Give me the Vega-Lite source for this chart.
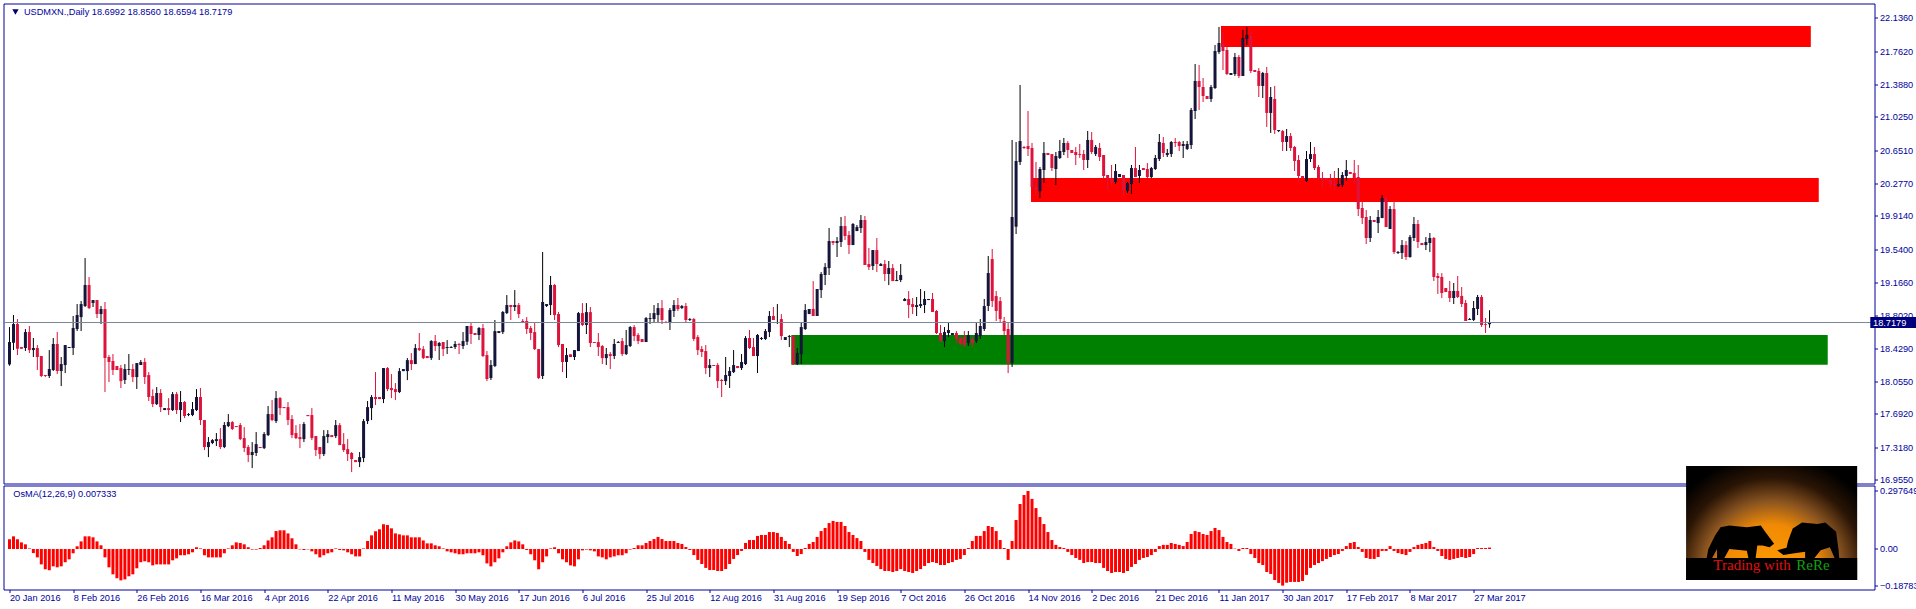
{
"$schema":"https://vega.github.io/schema/vega-lite/v6.json",
"padding":{"left":2.5,"top":2.5,"right":0,"bottom":0},
"background":"#ffffff",
"spacing":2,
"bounds":"flush",
"config":{"view":{"stroke":"#00009c","strokeWidth":1},"axis":{"labelFont":"Liberation Sans","labelFontSize":9.2,"labelColor":"#00009c","tickColor":"#00009c","tickSize":3,"domain":false,"grid":false,"title":null,"labelPadding":2,"labelBound":false,"labelFlush":false}},
"datasets":{
"candles":[
{"b":0,"o":18.248,"h":18.667,"l":18.233,"c":18.499},
{"b":1,"o":18.491,"h":18.802,"l":18.409,"c":18.701},
{"b":2,"o":18.701,"h":18.757,"l":18.353,"c":18.424},
{"b":3,"o":18.443,"h":18.443,"l":18.424,"c":18.424},
{"b":4,"o":18.432,"h":18.645,"l":18.398,"c":18.611},
{"b":5,"o":18.611,"h":18.679,"l":18.376,"c":18.409},
{"b":6,"o":18.409,"h":18.544,"l":18.331,"c":18.432},
{"b":7,"o":18.432,"h":18.465,"l":18.185,"c":18.331},
{"b":8,"o":18.342,"h":18.342,"l":18.106,"c":18.118},
{"b":9,"o":18.129,"h":18.129,"l":18.106,"c":18.118},
{"b":10,"o":18.118,"h":18.409,"l":18.095,"c":18.196},
{"b":11,"o":18.185,"h":18.544,"l":18.174,"c":18.477},
{"b":12,"o":18.477,"h":18.611,"l":18.140,"c":18.174},
{"b":13,"o":18.174,"h":18.331,"l":18.005,"c":18.252},
{"b":14,"o":18.241,"h":18.465,"l":18.151,"c":18.465},
{"b":15,"o":18.432,"h":18.443,"l":18.432,"c":18.443},
{"b":16,"o":18.432,"h":18.791,"l":18.353,"c":18.656},
{"b":17,"o":18.645,"h":18.925,"l":18.622,"c":18.802},
{"b":18,"o":18.779,"h":18.959,"l":18.622,"c":18.925},
{"b":19,"o":18.903,"h":19.441,"l":18.892,"c":19.139},
{"b":20,"o":19.139,"h":19.228,"l":18.869,"c":18.880},
{"b":21,"o":18.937,"h":18.970,"l":18.892,"c":18.970},
{"b":22,"o":18.970,"h":18.970,"l":18.768,"c":18.813},
{"b":23,"o":18.813,"h":18.903,"l":18.701,"c":18.869},
{"b":24,"o":18.869,"h":18.948,"l":17.938,"c":18.320},
{"b":25,"o":18.331,"h":18.353,"l":18.050,"c":18.275},
{"b":26,"o":18.286,"h":18.364,"l":18.129,"c":18.185},
{"b":27,"o":18.230,"h":18.230,"l":18.185,"c":18.185},
{"b":28,"o":18.207,"h":18.241,"l":17.983,"c":18.061},
{"b":29,"o":18.073,"h":18.252,"l":18.028,"c":18.196},
{"b":30,"o":18.185,"h":18.364,"l":18.129,"c":18.196},
{"b":31,"o":18.196,"h":18.252,"l":18.050,"c":18.106},
{"b":32,"o":18.106,"h":18.263,"l":17.972,"c":18.263},
{"b":33,"o":18.241,"h":18.297,"l":18.241,"c":18.275},
{"b":34,"o":18.275,"h":18.319,"l":18.028,"c":18.106},
{"b":35,"o":18.128,"h":18.162,"l":17.837,"c":17.882},
{"b":36,"o":17.893,"h":17.968,"l":17.769,"c":17.803},
{"b":37,"o":17.803,"h":17.994,"l":17.792,"c":17.927},
{"b":38,"o":17.927,"h":17.971,"l":17.713,"c":17.769},
{"b":39,"o":17.736,"h":17.758,"l":17.736,"c":17.758},
{"b":40,"o":17.758,"h":17.870,"l":17.680,"c":17.736},
{"b":41,"o":17.736,"h":17.938,"l":17.725,"c":17.915},
{"b":42,"o":17.915,"h":17.938,"l":17.691,"c":17.736},
{"b":43,"o":17.736,"h":17.949,"l":17.601,"c":17.826},
{"b":44,"o":17.826,"h":17.837,"l":17.646,"c":17.669},
{"b":45,"o":17.680,"h":17.702,"l":17.668,"c":17.691},
{"b":46,"o":17.680,"h":17.826,"l":17.668,"c":17.747},
{"b":47,"o":17.736,"h":17.971,"l":17.725,"c":17.882},
{"b":48,"o":17.882,"h":17.983,"l":17.568,"c":17.624},
{"b":49,"o":17.624,"h":17.624,"l":17.287,"c":17.321},
{"b":50,"o":17.321,"h":17.433,"l":17.208,"c":17.377},
{"b":51,"o":17.366,"h":17.410,"l":17.354,"c":17.399},
{"b":52,"o":17.388,"h":17.478,"l":17.332,"c":17.410},
{"b":53,"o":17.410,"h":17.534,"l":17.298,"c":17.321},
{"b":54,"o":17.321,"h":17.601,"l":17.309,"c":17.568},
{"b":55,"o":17.556,"h":17.691,"l":17.545,"c":17.601},
{"b":56,"o":17.601,"h":17.612,"l":17.511,"c":17.523},
{"b":57,"o":17.556,"h":17.556,"l":17.545,"c":17.545},
{"b":58,"o":17.568,"h":17.590,"l":17.399,"c":17.410},
{"b":59,"o":17.422,"h":17.545,"l":17.265,"c":17.310},
{"b":60,"o":17.321,"h":17.343,"l":17.152,"c":17.231},
{"b":61,"o":17.231,"h":17.377,"l":17.085,"c":17.265},
{"b":62,"o":17.254,"h":17.489,"l":17.220,"c":17.354},
{"b":63,"o":17.321,"h":17.321,"l":17.309,"c":17.309},
{"b":64,"o":17.309,"h":17.489,"l":17.298,"c":17.467},
{"b":65,"o":17.455,"h":17.781,"l":17.444,"c":17.691},
{"b":66,"o":17.691,"h":17.848,"l":17.612,"c":17.624},
{"b":67,"o":17.612,"h":17.949,"l":17.590,"c":17.870},
{"b":68,"o":17.870,"h":17.882,"l":17.680,"c":17.758},
{"b":69,"o":17.769,"h":17.769,"l":17.758,"c":17.758},
{"b":70,"o":17.769,"h":17.826,"l":17.567,"c":17.624},
{"b":71,"o":17.635,"h":17.680,"l":17.421,"c":17.455},
{"b":72,"o":17.478,"h":17.567,"l":17.410,"c":17.421},
{"b":73,"o":17.433,"h":17.579,"l":17.309,"c":17.410},
{"b":74,"o":17.410,"h":17.601,"l":17.377,"c":17.579},
{"b":75,"o":17.680,"h":17.680,"l":17.668,"c":17.668},
{"b":76,"o":17.680,"h":17.758,"l":17.399,"c":17.422},
{"b":77,"o":17.444,"h":17.444,"l":17.220,"c":17.287},
{"b":78,"o":17.321,"h":17.321,"l":17.186,"c":17.242},
{"b":79,"o":17.242,"h":17.511,"l":17.220,"c":17.444},
{"b":80,"o":17.433,"h":17.511,"l":17.366,"c":17.466},
{"b":81,"o":17.455,"h":17.455,"l":17.433,"c":17.433},
{"b":82,"o":17.444,"h":17.624,"l":17.422,"c":17.567},
{"b":83,"o":17.567,"h":17.590,"l":17.343,"c":17.343},
{"b":84,"o":17.354,"h":17.478,"l":17.265,"c":17.287},
{"b":85,"o":17.298,"h":17.410,"l":17.164,"c":17.242},
{"b":86,"o":17.254,"h":17.265,"l":17.040,"c":17.186},
{"b":87,"o":17.175,"h":17.175,"l":17.152,"c":17.152},
{"b":88,"o":17.152,"h":17.265,"l":17.096,"c":17.208},
{"b":89,"o":17.197,"h":17.635,"l":17.152,"c":17.612},
{"b":90,"o":17.612,"h":17.837,"l":17.579,"c":17.769},
{"b":91,"o":17.758,"h":17.904,"l":17.624,"c":17.882},
{"b":92,"o":17.882,"h":18.162,"l":17.792,"c":17.859},
{"b":93,"o":17.882,"h":17.882,"l":17.859,"c":17.859},
{"b":94,"o":17.859,"h":18.207,"l":17.814,"c":18.207},
{"b":95,"o":18.207,"h":18.218,"l":17.949,"c":17.971},
{"b":96,"o":17.983,"h":18.140,"l":17.870,"c":17.960},
{"b":97,"o":17.971,"h":18.039,"l":17.848,"c":17.938},
{"b":98,"o":17.938,"h":18.207,"l":17.927,"c":18.173},
{"b":99,"o":18.173,"h":18.196,"l":18.173,"c":18.196},
{"b":100,"o":18.173,"h":18.319,"l":18.072,"c":18.296},
{"b":101,"o":18.296,"h":18.375,"l":18.185,"c":18.252},
{"b":102,"o":18.252,"h":18.476,"l":18.252,"c":18.431},
{"b":103,"o":18.431,"h":18.600,"l":18.398,"c":18.409},
{"b":104,"o":18.420,"h":18.454,"l":18.308,"c":18.319},
{"b":105,"o":18.342,"h":18.342,"l":18.319,"c":18.319},
{"b":106,"o":18.319,"h":18.521,"l":18.297,"c":18.510},
{"b":107,"o":18.510,"h":18.578,"l":18.398,"c":18.454},
{"b":108,"o":18.454,"h":18.499,"l":18.297,"c":18.488},
{"b":109,"o":18.499,"h":18.499,"l":18.342,"c":18.420},
{"b":110,"o":18.432,"h":18.521,"l":18.364,"c":18.443},
{"b":111,"o":18.432,"h":18.454,"l":18.432,"c":18.443},
{"b":112,"o":18.443,"h":18.510,"l":18.420,"c":18.477},
{"b":113,"o":18.477,"h":18.488,"l":18.364,"c":18.465},
{"b":114,"o":18.454,"h":18.611,"l":18.420,"c":18.510},
{"b":115,"o":18.503,"h":18.679,"l":18.465,"c":18.679},
{"b":116,"o":18.679,"h":18.723,"l":18.477,"c":18.589},
{"b":117,"o":18.600,"h":18.600,"l":18.578,"c":18.578},
{"b":118,"o":18.578,"h":18.667,"l":18.521,"c":18.656},
{"b":119,"o":18.656,"h":18.701,"l":18.331,"c":18.342},
{"b":120,"o":18.353,"h":18.398,"l":18.061,"c":18.084},
{"b":121,"o":18.095,"h":18.297,"l":18.073,"c":18.241},
{"b":122,"o":18.230,"h":18.746,"l":18.218,"c":18.622},
{"b":123,"o":18.600,"h":18.622,"l":18.600,"c":18.622},
{"b":124,"o":18.611,"h":18.847,"l":18.589,"c":18.836},
{"b":125,"o":18.824,"h":19.026,"l":18.813,"c":18.914},
{"b":126,"o":18.914,"h":18.914,"l":18.746,"c":18.892},
{"b":127,"o":18.892,"h":19.082,"l":18.847,"c":18.914},
{"b":128,"o":18.914,"h":18.937,"l":18.768,"c":18.813},
{"b":129,"o":18.735,"h":18.757,"l":18.712,"c":18.723},
{"b":130,"o":18.735,"h":18.779,"l":18.589,"c":18.645},
{"b":131,"o":18.656,"h":18.679,"l":18.521,"c":18.600},
{"b":132,"o":18.611,"h":18.712,"l":18.409,"c":18.420},
{"b":133,"o":18.420,"h":18.420,"l":18.084,"c":18.095},
{"b":134,"o":18.118,"h":19.509,"l":18.084,"c":18.948},
{"b":135,"o":18.903,"h":18.925,"l":18.892,"c":18.925},
{"b":136,"o":18.914,"h":19.240,"l":18.802,"c":19.139},
{"b":137,"o":19.139,"h":19.150,"l":18.746,"c":18.802},
{"b":138,"o":18.813,"h":18.836,"l":18.443,"c":18.465},
{"b":139,"o":18.477,"h":18.477,"l":18.162,"c":18.275},
{"b":140,"o":18.275,"h":18.432,"l":18.095,"c":18.353},
{"b":141,"o":18.361,"h":18.361,"l":18.331,"c":18.331},
{"b":142,"o":18.331,"h":18.409,"l":18.297,"c":18.409},
{"b":143,"o":18.398,"h":18.836,"l":18.398,"c":18.824},
{"b":144,"o":18.824,"h":18.936,"l":18.678,"c":18.690},
{"b":145,"o":18.690,"h":18.936,"l":18.589,"c":18.835},
{"b":146,"o":18.835,"h":18.892,"l":18.443,"c":18.488},
{"b":147,"o":18.499,"h":18.499,"l":18.488,"c":18.488},
{"b":148,"o":18.499,"h":18.600,"l":18.342,"c":18.443},
{"b":149,"o":18.454,"h":18.465,"l":18.252,"c":18.319},
{"b":150,"o":18.319,"h":18.432,"l":18.241,"c":18.364},
{"b":151,"o":18.364,"h":18.387,"l":18.196,"c":18.342},
{"b":152,"o":18.342,"h":18.533,"l":18.308,"c":18.477},
{"b":153,"o":18.488,"h":18.510,"l":18.488,"c":18.499},
{"b":154,"o":18.510,"h":18.544,"l":18.342,"c":18.364},
{"b":155,"o":18.364,"h":18.634,"l":18.353,"c":18.465},
{"b":156,"o":18.454,"h":18.678,"l":18.443,"c":18.667},
{"b":157,"o":18.667,"h":18.690,"l":18.510,"c":18.566},
{"b":158,"o":18.578,"h":18.600,"l":18.476,"c":18.510},
{"b":159,"o":18.533,"h":18.533,"l":18.499,"c":18.499},
{"b":160,"o":18.499,"h":18.779,"l":18.499,"c":18.768},
{"b":161,"o":18.757,"h":18.824,"l":18.701,"c":18.768},
{"b":162,"o":18.757,"h":18.914,"l":18.712,"c":18.824},
{"b":163,"o":18.802,"h":18.937,"l":18.712,"c":18.880},
{"b":164,"o":18.880,"h":18.970,"l":18.701,"c":18.746},
{"b":165,"o":18.724,"h":18.735,"l":18.712,"c":18.712},
{"b":166,"o":18.712,"h":18.881,"l":18.634,"c":18.858},
{"b":167,"o":18.847,"h":18.970,"l":18.780,"c":18.914},
{"b":168,"o":18.914,"h":18.993,"l":18.847,"c":18.869},
{"b":169,"o":18.881,"h":18.914,"l":18.869,"c":18.903},
{"b":170,"o":18.903,"h":18.937,"l":18.712,"c":18.746},
{"b":171,"o":18.746,"h":18.768,"l":18.735,"c":18.757},
{"b":172,"o":18.757,"h":18.768,"l":18.510,"c":18.533},
{"b":173,"o":18.555,"h":18.577,"l":18.353,"c":18.409},
{"b":174,"o":18.420,"h":18.454,"l":18.331,"c":18.387},
{"b":175,"o":18.398,"h":18.465,"l":18.140,"c":18.207},
{"b":176,"o":18.207,"h":18.308,"l":18.106,"c":18.241},
{"b":177,"o":18.241,"h":18.241,"l":18.230,"c":18.230},
{"b":178,"o":18.241,"h":18.263,"l":17.983,"c":18.061},
{"b":179,"o":18.073,"h":18.084,"l":17.882,"c":18.061},
{"b":180,"o":18.061,"h":18.331,"l":18.017,"c":18.129},
{"b":181,"o":18.118,"h":18.219,"l":17.983,"c":18.174},
{"b":182,"o":18.162,"h":18.409,"l":18.151,"c":18.241},
{"b":183,"o":18.230,"h":18.230,"l":18.207,"c":18.207},
{"b":184,"o":18.207,"h":18.364,"l":18.185,"c":18.275},
{"b":185,"o":18.252,"h":18.566,"l":18.241,"c":18.544},
{"b":186,"o":18.544,"h":18.634,"l":18.420,"c":18.432},
{"b":187,"o":18.443,"h":18.544,"l":18.342,"c":18.342},
{"b":188,"o":18.342,"h":18.589,"l":18.151,"c":18.578},
{"b":189,"o":18.533,"h":18.555,"l":18.522,"c":18.544},
{"b":190,"o":18.533,"h":18.645,"l":18.522,"c":18.622},
{"b":191,"o":18.611,"h":18.847,"l":18.555,"c":18.791},
{"b":192,"o":18.791,"h":18.892,"l":18.746,"c":18.746},
{"b":193,"o":18.757,"h":18.925,"l":18.701,"c":18.757},
{"b":194,"o":18.757,"h":18.813,"l":18.522,"c":18.566},
{"b":195,"o":18.522,"h":18.555,"l":18.522,"c":18.555},
{"b":196,"o":18.555,"h":18.578,"l":18.443,"c":18.566},
{"b":197,"o":18.566,"h":18.578,"l":18.241,"c":18.252},
{"b":198,"o":18.252,"h":18.432,"l":18.241,"c":18.376},
{"b":199,"o":18.364,"h":18.723,"l":18.252,"c":18.667},
{"b":200,"o":18.645,"h":18.925,"l":18.634,"c":18.858},
{"b":201,"o":18.813,"h":18.870,"l":18.813,"c":18.870},
{"b":202,"o":18.870,"h":19.183,"l":18.791,"c":18.791},
{"b":203,"o":18.791,"h":19.094,"l":18.791,"c":19.094},
{"b":204,"o":19.082,"h":19.284,"l":18.993,"c":19.262},
{"b":205,"o":19.251,"h":19.385,"l":19.138,"c":19.340},
{"b":206,"o":19.329,"h":19.778,"l":19.251,"c":19.632},
{"b":207,"o":19.632,"h":19.632,"l":19.587,"c":19.610},
{"b":208,"o":19.610,"h":19.677,"l":19.453,"c":19.632},
{"b":209,"o":19.621,"h":19.902,"l":19.565,"c":19.800},
{"b":210,"o":19.800,"h":19.913,"l":19.643,"c":19.688},
{"b":211,"o":19.699,"h":19.744,"l":19.486,"c":19.587},
{"b":212,"o":19.587,"h":19.834,"l":19.587,"c":19.823},
{"b":213,"o":19.744,"h":19.812,"l":19.744,"c":19.789},
{"b":214,"o":19.778,"h":19.924,"l":19.722,"c":19.868},
{"b":215,"o":19.868,"h":19.913,"l":19.363,"c":19.363},
{"b":216,"o":19.374,"h":19.554,"l":19.307,"c":19.340},
{"b":217,"o":19.352,"h":19.531,"l":19.307,"c":19.531},
{"b":218,"o":19.531,"h":19.666,"l":19.284,"c":19.374},
{"b":219,"o":19.352,"h":19.385,"l":19.352,"c":19.374},
{"b":220,"o":19.374,"h":19.419,"l":19.183,"c":19.262},
{"b":221,"o":19.262,"h":19.408,"l":19.138,"c":19.329},
{"b":222,"o":19.329,"h":19.374,"l":19.183,"c":19.183},
{"b":223,"o":19.183,"h":19.296,"l":19.183,"c":19.195},
{"b":224,"o":19.195,"h":19.374,"l":19.172,"c":19.251},
{"b":225,"o":18.959,"h":18.993,"l":18.959,"c":18.982},
{"b":226,"o":18.982,"h":19.071,"l":18.768,"c":18.914},
{"b":227,"o":18.925,"h":18.993,"l":18.813,"c":18.892},
{"b":228,"o":18.892,"h":19.004,"l":18.791,"c":18.914},
{"b":229,"o":18.903,"h":19.094,"l":18.881,"c":18.925},
{"b":230,"o":18.914,"h":19.071,"l":18.824,"c":18.982},
{"b":231,"o":18.970,"h":18.982,"l":18.970,"c":18.982},
{"b":232,"o":18.982,"h":19.049,"l":18.836,"c":18.836},
{"b":233,"o":18.847,"h":18.858,"l":18.589,"c":18.600},
{"b":234,"o":18.600,"h":18.690,"l":18.499,"c":18.510},
{"b":235,"o":18.510,"h":18.667,"l":18.443,"c":18.611},
{"b":236,"o":18.600,"h":18.712,"l":18.555,"c":18.634},
{"b":237,"o":18.578,"h":18.600,"l":18.578,"c":18.600},
{"b":238,"o":18.600,"h":18.622,"l":18.488,"c":18.533},
{"b":239,"o":18.544,"h":18.555,"l":18.465,"c":18.477},
{"b":240,"o":18.555,"h":18.623,"l":18.443,"c":18.466},
{"b":241,"o":18.488,"h":18.623,"l":18.454,"c":18.578},
{"b":242,"o":18.533,"h":18.555,"l":18.443,"c":18.488},
{"b":243,"o":18.510,"h":18.712,"l":18.488,"c":18.600},
{"b":244,"o":18.566,"h":18.757,"l":18.533,"c":18.679},
{"b":245,"o":18.645,"h":18.982,"l":18.623,"c":18.903},
{"b":246,"o":18.903,"h":19.464,"l":18.847,"c":19.273},
{"b":247,"o":19.430,"h":19.543,"l":18.892,"c":18.959},
{"b":248,"o":19.015,"h":19.071,"l":18.735,"c":18.847},
{"b":249,"o":18.959,"h":19.004,"l":18.712,"c":18.757},
{"b":250,"o":18.735,"h":18.780,"l":18.578,"c":18.623},
{"b":251,"o":18.645,"h":18.712,"l":18.151,"c":18.264},
{"b":252,"o":18.264,"h":20.766,"l":18.219,"c":19.902},
{"b":253,"o":19.793,"h":20.743,"l":19.711,"c":20.530},
{"b":254,"o":20.519,"h":21.383,"l":20.485,"c":20.754},
{"b":255,"o":20.687,"h":20.698,"l":20.665,"c":20.676},
{"b":256,"o":20.698,"h":21.091,"l":20.586,"c":20.665},
{"b":257,"o":20.676,"h":20.732,"l":20.238,"c":20.238},
{"b":258,"o":20.238,"h":20.519,"l":20.137,"c":20.205},
{"b":259,"o":20.193,"h":20.463,"l":20.115,"c":20.440},
{"b":260,"o":20.429,"h":20.743,"l":20.283,"c":20.620},
{"b":261,"o":20.620,"h":20.620,"l":20.597,"c":20.597},
{"b":262,"o":20.608,"h":20.608,"l":20.418,"c":20.451},
{"b":263,"o":20.440,"h":20.631,"l":20.261,"c":20.586},
{"b":264,"o":20.564,"h":20.766,"l":20.552,"c":20.642},
{"b":265,"o":20.631,"h":20.788,"l":20.597,"c":20.732},
{"b":266,"o":20.732,"h":20.754,"l":20.564,"c":20.653},
{"b":267,"o":20.653,"h":20.653,"l":20.620,"c":20.620},
{"b":268,"o":20.631,"h":20.687,"l":20.485,"c":20.597},
{"b":269,"o":20.608,"h":20.721,"l":20.564,"c":20.597},
{"b":270,"o":20.608,"h":20.653,"l":20.429,"c":20.541},
{"b":271,"o":20.541,"h":20.867,"l":20.451,"c":20.766},
{"b":272,"o":20.766,"h":20.855,"l":20.608,"c":20.631},
{"b":273,"o":20.608,"h":20.709,"l":20.586,"c":20.687},
{"b":274,"o":20.676,"h":20.732,"l":20.530,"c":20.575},
{"b":275,"o":20.597,"h":20.597,"l":20.328,"c":20.362},
{"b":276,"o":20.373,"h":20.373,"l":20.205,"c":20.328},
{"b":277,"o":20.328,"h":20.485,"l":20.261,"c":20.294},
{"b":278,"o":20.294,"h":20.496,"l":20.272,"c":20.418},
{"b":279,"o":20.350,"h":20.384,"l":20.350,"c":20.384},
{"b":280,"o":20.373,"h":20.373,"l":20.137,"c":20.201},
{"b":281,"o":20.193,"h":20.294,"l":20.171,"c":20.283},
{"b":282,"o":20.272,"h":20.485,"l":20.160,"c":20.451},
{"b":283,"o":20.451,"h":20.687,"l":20.350,"c":20.350},
{"b":284,"o":20.362,"h":20.485,"l":20.283,"c":20.429},
{"b":285,"o":20.451,"h":20.451,"l":20.429,"c":20.429},
{"b":286,"o":20.440,"h":20.507,"l":20.339,"c":20.350},
{"b":287,"o":20.350,"h":20.463,"l":20.339,"c":20.451},
{"b":288,"o":20.440,"h":20.597,"l":20.429,"c":20.564},
{"b":289,"o":20.552,"h":20.833,"l":20.530,"c":20.743},
{"b":290,"o":20.732,"h":20.799,"l":20.575,"c":20.620},
{"b":291,"o":20.597,"h":20.665,"l":20.575,"c":20.620},
{"b":292,"o":20.608,"h":20.754,"l":20.575,"c":20.743},
{"b":293,"o":20.743,"h":20.788,"l":20.687,"c":20.732},
{"b":294,"o":20.743,"h":20.754,"l":20.642,"c":20.698},
{"b":295,"o":20.698,"h":20.754,"l":20.564,"c":20.721},
{"b":296,"o":20.665,"h":20.754,"l":20.653,"c":20.721},
{"b":297,"o":20.709,"h":21.125,"l":20.665,"c":21.102},
{"b":298,"o":21.091,"h":21.618,"l":21.001,"c":21.428},
{"b":299,"o":21.428,"h":21.607,"l":21.102,"c":21.360},
{"b":300,"o":21.360,"h":21.461,"l":21.192,"c":21.259},
{"b":301,"o":21.259,"h":21.259,"l":21.226,"c":21.226},
{"b":302,"o":21.226,"h":21.383,"l":21.192,"c":21.360},
{"b":303,"o":21.349,"h":21.832,"l":21.338,"c":21.764},
{"b":304,"o":21.753,"h":22.034,"l":21.731,"c":21.854},
{"b":305,"o":21.843,"h":21.970,"l":21.551,"c":21.764},
{"b":306,"o":21.776,"h":21.809,"l":21.495,"c":21.506},
{"b":307,"o":21.495,"h":21.517,"l":21.495,"c":21.517},
{"b":308,"o":21.506,"h":21.742,"l":21.484,"c":21.697},
{"b":309,"o":21.697,"h":21.719,"l":21.461,"c":21.484},
{"b":310,"o":21.484,"h":22.000,"l":21.484,"c":21.910},
{"b":311,"o":21.899,"h":22.034,"l":21.832,"c":21.944},
{"b":312,"o":21.933,"h":21.989,"l":21.517,"c":21.540},
{"b":313,"o":21.551,"h":21.551,"l":21.529,"c":21.529},
{"b":314,"o":21.540,"h":21.574,"l":21.248,"c":21.372},
{"b":315,"o":21.372,"h":21.529,"l":21.237,"c":21.517},
{"b":316,"o":21.517,"h":21.585,"l":20.912,"c":21.069},
{"b":317,"o":21.069,"h":21.360,"l":20.844,"c":21.248},
{"b":318,"o":21.226,"h":21.372,"l":20.833,"c":20.878},
{"b":319,"o":20.866,"h":20.878,"l":20.854,"c":20.878},
{"b":320,"o":20.866,"h":20.878,"l":20.642,"c":20.743},
{"b":321,"o":20.743,"h":20.889,"l":20.642,"c":20.810},
{"b":322,"o":20.810,"h":20.844,"l":20.642,"c":20.676},
{"b":323,"o":20.687,"h":20.698,"l":20.418,"c":20.530},
{"b":324,"o":20.541,"h":20.597,"l":20.283,"c":20.362},
{"b":325,"o":20.362,"h":20.362,"l":20.339,"c":20.339},
{"b":326,"o":20.306,"h":20.642,"l":20.294,"c":20.552},
{"b":327,"o":20.552,"h":20.743,"l":20.519,"c":20.608},
{"b":328,"o":20.608,"h":20.687,"l":20.429,"c":20.451},
{"b":329,"o":20.463,"h":20.485,"l":20.317,"c":20.339},
{"b":330,"o":20.339,"h":20.407,"l":20.227,"c":20.317},
{"b":331,"o":20.339,"h":20.339,"l":20.317,"c":20.317},
{"b":332,"o":20.317,"h":20.384,"l":20.227,"c":20.272},
{"b":333,"o":20.272,"h":20.418,"l":20.205,"c":20.261},
{"b":334,"o":20.249,"h":20.451,"l":20.238,"c":20.272},
{"b":335,"o":20.261,"h":20.406,"l":20.238,"c":20.373},
{"b":336,"o":20.362,"h":20.541,"l":20.306,"c":20.429},
{"b":337,"o":20.407,"h":20.407,"l":20.384,"c":20.384},
{"b":338,"o":20.395,"h":20.541,"l":20.272,"c":20.339},
{"b":339,"o":20.350,"h":20.485,"l":19.913,"c":19.991},
{"b":340,"o":20.003,"h":20.081,"l":19.823,"c":19.890},
{"b":341,"o":19.902,"h":19.980,"l":19.599,"c":19.666},
{"b":342,"o":19.666,"h":19.913,"l":19.621,"c":19.868},
{"b":343,"o":19.868,"h":19.868,"l":19.846,"c":19.846},
{"b":344,"o":19.834,"h":19.980,"l":19.722,"c":19.902},
{"b":345,"o":19.890,"h":20.148,"l":19.890,"c":20.115},
{"b":346,"o":20.115,"h":20.148,"l":19.789,"c":19.789},
{"b":347,"o":19.767,"h":20.025,"l":19.767,"c":19.991},
{"b":348,"o":19.991,"h":20.081,"l":19.487,"c":19.509},
{"b":349,"o":19.498,"h":19.520,"l":19.487,"c":19.509},
{"b":350,"o":19.498,"h":19.644,"l":19.430,"c":19.587},
{"b":351,"o":19.587,"h":19.632,"l":19.419,"c":19.453},
{"b":352,"o":19.453,"h":19.700,"l":19.445,"c":19.677},
{"b":353,"o":19.666,"h":19.902,"l":19.632,"c":19.823},
{"b":354,"o":19.823,"h":19.868,"l":19.554,"c":19.621},
{"b":355,"o":19.610,"h":19.610,"l":19.587,"c":19.587},
{"b":356,"o":19.587,"h":19.677,"l":19.531,"c":19.621},
{"b":357,"o":19.610,"h":19.722,"l":19.509,"c":19.666},
{"b":358,"o":19.666,"h":19.677,"l":19.184,"c":19.229},
{"b":359,"o":19.240,"h":19.273,"l":19.038,"c":19.217},
{"b":360,"o":19.229,"h":19.273,"l":18.993,"c":19.049},
{"b":361,"o":19.105,"h":19.105,"l":19.060,"c":19.060},
{"b":362,"o":19.072,"h":19.184,"l":18.948,"c":18.993},
{"b":363,"o":18.993,"h":19.161,"l":18.926,"c":19.072},
{"b":364,"o":19.072,"h":19.240,"l":18.993,"c":19.004},
{"b":365,"o":19.016,"h":19.116,"l":18.892,"c":18.926},
{"b":366,"o":18.937,"h":18.971,"l":18.735,"c":18.735},
{"b":367,"o":18.746,"h":18.769,"l":18.746,"c":18.757},
{"b":368,"o":18.746,"h":18.959,"l":18.735,"c":18.881},
{"b":369,"o":18.870,"h":19.027,"l":18.802,"c":19.004},
{"b":370,"o":19.004,"h":19.027,"l":18.668,"c":18.690},
{"b":371,"o":18.699,"h":18.769,"l":18.600,"c":18.690},
{"b":372,"o":18.699,"h":18.856,"l":18.659,"c":18.718}
],
"osma":[
{"b":0,"v":0.050},{"b":1,"v":0.065},{"b":2,"v":0.050},{"b":3,"v":0.034},{"b":4,"v":0.024},{"b":5,"v":0.003},{"b":6,"v":-0.021},{"b":7,"v":-0.043},{"b":8,"v":-0.079},{"b":9,"v":-0.104},{"b":10,"v":-0.109},{"b":11,"v":-0.089},{"b":12,"v":-0.094},{"b":13,"v":-0.089},{"b":14,"v":-0.068},{"b":15,"v":-0.053},{"b":16,"v":-0.022},{"b":17,"v":0.014},{"b":18,"v":0.039},{"b":19,"v":0.065},{"b":20,"v":0.065},{"b":21,"v":0.060},{"b":22,"v":0.039},{"b":23,"v":0.019},{"b":24,"v":-0.043},{"b":25,"v":-0.094},{"b":26,"v":-0.130},{"b":27,"v":-0.150},{"b":28,"v":-0.161},{"b":29,"v":-0.156},{"b":30,"v":-0.140},{"b":31,"v":-0.130},{"b":32,"v":-0.099},{"b":33,"v":-0.068},{"b":34,"v":-0.063},{"b":35,"v":-0.068},{"b":36,"v":-0.084},{"b":37,"v":-0.079},{"b":38,"v":-0.079},{"b":39,"v":-0.079},{"b":40,"v":-0.079},{"b":41,"v":-0.058},{"b":42,"v":-0.048},{"b":43,"v":-0.032},{"b":44,"v":-0.032},{"b":45,"v":-0.027},{"b":46,"v":-0.017},{"b":47,"v":0.009},{"b":48,"v":0.003},{"b":49,"v":-0.032},{"b":50,"v":-0.043},{"b":51,"v":-0.043},{"b":52,"v":-0.043},{"b":53,"v":-0.043},{"b":54,"v":-0.022},{"b":55,"v":0.003},{"b":56,"v":0.019},{"b":57,"v":0.034},{"b":58,"v":0.031},{"b":59,"v":0.024},{"b":60,"v":0.009},{"b":61,"v":-0.003},{"b":62,"v":-0.003},{"b":63,"v":0.005},{"b":64,"v":0.019},{"b":65,"v":0.044},{"b":66,"v":0.060},{"b":67,"v":0.092},{"b":68,"v":0.096},{"b":69,"v":0.096},{"b":70,"v":0.080},{"b":71,"v":0.055},{"b":72,"v":0.024},{"b":73,"v":-0.002},{"b":74,"v":-0.005},{"b":75,"v":-0.002},{"b":76,"v":-0.012},{"b":77,"v":-0.027},{"b":78,"v":-0.043},{"b":79,"v":-0.032},{"b":80,"v":-0.022},{"b":81,"v":-0.017},{"b":82,"v":0.003},{"b":83,"v":-0.005},{"b":84,"v":-0.007},{"b":85,"v":-0.017},{"b":86,"v":-0.027},{"b":87,"v":-0.038},{"b":88,"v":-0.038},{"b":89,"v":0.003},{"b":90,"v":0.041},{"b":91,"v":0.070},{"b":92,"v":0.091},{"b":93,"v":0.101},{"b":94,"v":0.127},{"b":95,"v":0.123},{"b":96,"v":0.106},{"b":97,"v":0.080},{"b":98,"v":0.075},{"b":99,"v":0.070},{"b":100,"v":0.070},{"b":101,"v":0.060},{"b":102,"v":0.060},{"b":103,"v":0.060},{"b":104,"v":0.044},{"b":105,"v":0.029},{"b":106,"v":0.029},{"b":107,"v":0.019},{"b":108,"v":0.014},{"b":109,"v":0.003},{"b":110,"v":-0.012},{"b":111,"v":-0.017},{"b":112,"v":-0.022},{"b":113,"v":-0.027},{"b":114,"v":-0.027},{"b":115,"v":-0.022},{"b":116,"v":-0.022},{"b":117,"v":-0.022},{"b":118,"v":-0.017},{"b":119,"v":-0.032},{"b":120,"v":-0.074},{"b":121,"v":-0.089},{"b":122,"v":-0.068},{"b":123,"v":-0.048},{"b":124,"v":-0.017},{"b":125,"v":0.014},{"b":126,"v":0.034},{"b":127,"v":0.044},{"b":128,"v":0.039},{"b":129,"v":0.024},{"b":130,"v":-0.005},{"b":131,"v":-0.027},{"b":132,"v":-0.058},{"b":133,"v":-0.104},{"b":134,"v":-0.068},{"b":135,"v":-0.038},{"b":136,"v":0.003},{"b":137,"v":0.009},{"b":138,"v":-0.022},{"b":139,"v":-0.053},{"b":140,"v":-0.068},{"b":141,"v":-0.084},{"b":142,"v":-0.089},{"b":143,"v":-0.053},{"b":144,"v":-0.007},{"b":145,"v":-0.003},{"b":146,"v":-0.007},{"b":147,"v":-0.012},{"b":148,"v":-0.038},{"b":149,"v":-0.043},{"b":150,"v":-0.053},{"b":151,"v":-0.043},{"b":152,"v":-0.038},{"b":153,"v":-0.032},{"b":154,"v":-0.032},{"b":155,"v":-0.022},{"b":156,"v":-0.003},{"b":157,"v":0.005},{"b":158,"v":0.019},{"b":159,"v":0.019},{"b":160,"v":0.031},{"b":161,"v":0.041},{"b":162,"v":0.051},{"b":163,"v":0.062},{"b":164,"v":0.051},{"b":165,"v":0.041},{"b":166,"v":0.041},{"b":167,"v":0.041},{"b":168,"v":0.031},{"b":169,"v":0.026},{"b":170,"v":0.010},{"b":171,"v":-0.005},{"b":172,"v":-0.031},{"b":173,"v":-0.056},{"b":174,"v":-0.077},{"b":175,"v":-0.097},{"b":176,"v":-0.108},{"b":177,"v":-0.108},{"b":178,"v":-0.113},{"b":179,"v":-0.113},{"b":180,"v":-0.103},{"b":181,"v":-0.077},{"b":182,"v":-0.051},{"b":183,"v":-0.031},{"b":184,"v":-0.010},{"b":185,"v":0.031},{"b":186,"v":0.046},{"b":187,"v":0.046},{"b":188,"v":0.067},{"b":189,"v":0.072},{"b":190,"v":0.072},{"b":191,"v":0.087},{"b":192,"v":0.087},{"b":193,"v":0.082},{"b":194,"v":0.062},{"b":195,"v":0.041},{"b":196,"v":0.026},{"b":197,"v":-0.015},{"b":198,"v":-0.036},{"b":199,"v":-0.026},{"b":200,"v":0.005},{"b":201,"v":0.026},{"b":202,"v":0.036},{"b":203,"v":0.062},{"b":204,"v":0.092},{"b":205,"v":0.108},{"b":206,"v":0.133},{"b":207,"v":0.144},{"b":208,"v":0.139},{"b":209,"v":0.139},{"b":210,"v":0.118},{"b":211,"v":0.087},{"b":212,"v":0.072},{"b":213,"v":0.056},{"b":214,"v":0.041},{"b":215,"v":-0.015},{"b":216,"v":-0.056},{"b":217,"v":-0.072},{"b":218,"v":-0.087},{"b":219,"v":-0.103},{"b":220,"v":-0.113},{"b":221,"v":-0.113},{"b":222,"v":-0.118},{"b":223,"v":-0.113},{"b":224,"v":-0.103},{"b":225,"v":-0.113},{"b":226,"v":-0.118},{"b":227,"v":-0.123},{"b":228,"v":-0.113},{"b":229,"v":-0.103},{"b":230,"v":-0.087},{"b":231,"v":-0.072},{"b":232,"v":-0.067},{"b":233,"v":-0.072},{"b":234,"v":-0.082},{"b":235,"v":-0.082},{"b":236,"v":-0.072},{"b":237,"v":-0.067},{"b":238,"v":-0.056},{"b":239,"v":-0.051},{"b":240,"v":-0.031},{"b":241,"v":0.005},{"b":242,"v":0.041},{"b":243,"v":0.067},{"b":244,"v":0.067},{"b":245,"v":0.092},{"b":246,"v":0.118},{"b":247,"v":0.113},{"b":248,"v":0.092},{"b":249,"v":0.046},{"b":250,"v":0.005},{"b":251,"v":-0.056},{"b":252,"v":0.041},{"b":253,"v":0.149},{"b":254,"v":0.231},{"b":255,"v":0.277},{"b":256,"v":0.2976},{"b":257,"v":0.257},{"b":258,"v":0.210},{"b":259,"v":0.164},{"b":260,"v":0.128},{"b":261,"v":0.087},{"b":262,"v":0.046},{"b":263,"v":0.021},{"b":264,"v":0.010},{"b":265,"v":0.005},{"b":266,"v":-0.015},{"b":267,"v":-0.031},{"b":268,"v":-0.046},{"b":269,"v":-0.056},{"b":270,"v":-0.072},{"b":271,"v":-0.067},{"b":272,"v":-0.067},{"b":273,"v":-0.072},{"b":274,"v":-0.072},{"b":275,"v":-0.097},{"b":276,"v":-0.113},{"b":277,"v":-0.123},{"b":278,"v":-0.118},{"b":279,"v":-0.118},{"b":280,"v":-0.123},{"b":281,"v":-0.113},{"b":282,"v":-0.092},{"b":283,"v":-0.077},{"b":284,"v":-0.056},{"b":285,"v":-0.046},{"b":286,"v":-0.041},{"b":287,"v":-0.031},{"b":288,"v":-0.015},{"b":289,"v":0.015},{"b":290,"v":0.021},{"b":291,"v":0.021},{"b":292,"v":0.031},{"b":293,"v":0.026},{"b":294,"v":0.021},{"b":295,"v":0.015},{"b":296,"v":0.036},{"b":297,"v":0.077},{"b":298,"v":0.092},{"b":299,"v":0.087},{"b":300,"v":0.077},{"b":301,"v":0.072},{"b":302,"v":0.092},{"b":303,"v":0.108},{"b":304,"v":0.097},{"b":305,"v":0.062},{"b":306,"v":0.036},{"b":307,"v":0.026},{"b":308,"v":0.002},{"b":309,"v":-0.010},{"b":310,"v":0.005},{"b":311,"v":0.005},{"b":312,"v":-0.026},{"b":313,"v":-0.046},{"b":314,"v":-0.072},{"b":315,"v":-0.082},{"b":316,"v":-0.118},{"b":317,"v":-0.128},{"b":318,"v":-0.159},{"b":319,"v":-0.174},{"b":320,"v":-0.1878},{"b":321,"v":-0.173},{"b":322,"v":-0.169},{"b":323,"v":-0.169},{"b":324,"v":-0.169},{"b":325,"v":-0.164},{"b":326,"v":-0.133},{"b":327,"v":-0.097},{"b":328,"v":-0.082},{"b":329,"v":-0.072},{"b":330,"v":-0.062},{"b":331,"v":-0.051},{"b":332,"v":-0.041},{"b":333,"v":-0.031},{"b":334,"v":-0.026},{"b":335,"v":-0.010},{"b":336,"v":0.015},{"b":337,"v":0.031},{"b":338,"v":0.036},{"b":339,"v":0.010},{"b":340,"v":-0.015},{"b":341,"v":-0.046},{"b":342,"v":-0.051},{"b":343,"v":-0.051},{"b":344,"v":-0.041},{"b":345,"v":-0.010},{"b":346,"v":-0.010},{"b":347,"v":0.015},{"b":348,"v":-0.010},{"b":349,"v":-0.021},{"b":350,"v":-0.026},{"b":351,"v":-0.031},{"b":352,"v":-0.015},{"b":353,"v":0.010},{"b":354,"v":0.021},{"b":355,"v":0.026},{"b":356,"v":0.031},{"b":357,"v":0.041},{"b":358,"v":0.010},{"b":359,"v":-0.010},{"b":360,"v":-0.036},{"b":361,"v":-0.051},{"b":362,"v":-0.056},{"b":363,"v":-0.051},{"b":364,"v":-0.046},{"b":365,"v":-0.041},{"b":366,"v":-0.046},{"b":367,"v":-0.041},{"b":368,"v":-0.026},{"b":369,"v":0.005},{"b":370,"v":0.005},{"b":371,"v":0.005},{"b":372,"v":0.007333}
]
},
"vconcat":[
{
"width":1871,"height":480,
"layer":[
{"data":{"values":[{"x1":304.5,"x2":452.75,"top":22.045,"bot":21.809},{"x1":256.75,"x2":454.75,"top":20.339,"bot":20.070}]},
 "mark":{"type":"rect","color":"#ff0000"},
 "encoding":{"x":{"field":"x1","type":"quantitative","scale":{"domain":[-0.25,467.5],"nice":false,"zero":false},"axis":null},"x2":{"field":"x2"},"y":{"field":"top","type":"quantitative","scale":{"domain":[16.912,22.297],"nice":false,"zero":false},"axis":{"orient":"right","labelOverlap":false,"tickCount":30,"values":[22.136,21.762,21.388,21.025,20.651,20.277,19.914,19.54,19.166,18.802,18.429,18.055,17.692,17.318,16.955],"format":".4f"}},"y2":{"field":"bot"}}},
{"data":{"values":[{"x1":196.5,"x2":457,"top":18.578,"bot":18.244}]},
 "mark":{"type":"rect","color":"#008000"},
 "encoding":{"x":{"field":"x1","type":"quantitative"},"x2":{"field":"x2"},"y":{"field":"top","type":"quantitative"},"y2":{"field":"bot"}}},
{"data":{"name":"candles"},
 "mark":{"type":"rule","strokeWidth":1},
 "encoding":{"x":{"field":"b","type":"quantitative"},"y":{"field":"l","type":"quantitative"},"y2":{"field":"h"},"color":{"condition":{"test":"datum.c>=datum.o","value":"#000000"},"value":"#dc143c"}}},
{"data":{"name":"candles"},
 "mark":{"type":"bar","size":3},
 "encoding":{"x":{"field":"b","type":"quantitative"},"y":{"field":"o","type":"quantitative"},"y2":{"field":"c"},"color":{"condition":{"test":"datum.c>=datum.o","value":"#15153c"},"value":"#dc143c"}}},
{"data":{"values":[{"p":18.7179}]},
 "mark":{"type":"rule","color":"#778899","strokeWidth":1},
 "encoding":{"y":{"field":"p","type":"quantitative"}}},
{"data":{"values":[{"x1":467.7,"x2":480,"top":18.78,"bot":18.656}]},
 "mark":{"type":"rect","color":"#00007f","clip":false},
 "encoding":{"x":{"field":"x1","type":"quantitative"},"x2":{"field":"x2"},"y":{"field":"top","type":"quantitative"},"y2":{"field":"bot"}}},
{"data":{"values":[{"b":468.4,"p":18.7179,"t":"18.7179"}]},
 "mark":{"type":"text","align":"left","baseline":"middle","color":"#ffffff","font":"Liberation Sans","fontSize":9.2},
 "encoding":{"x":{"field":"b","type":"quantitative"},"y":{"field":"p","type":"quantitative"},"text":{"field":"t"}}},
{"data":{"values":[{"b":3.625,"p":22.202,"t":"USDMXN.,Daily  18.6992 18.8560 18.6594 18.7179"}]},
 "mark":{"type":"text","align":"left","baseline":"middle","color":"#00009c","font":"Liberation Sans","fontSize":9.2},
 "encoding":{"x":{"field":"b","type":"quantitative"},"y":{"field":"p","type":"quantitative"},"text":{"field":"t"}}},
{"data":{"values":[{"b":1.5,"p":22.202}]},
 "mark":{"type":"point","shape":"triangle-down","filled":true,"size":40,"color":"#00006e","opacity":1},
 "encoding":{"x":{"field":"b","type":"quantitative"},"y":{"field":"p","type":"quantitative"}}}
]
},
{
"width":1871,"height":104,
"layer":[
{"data":{"name":"osma"},
 "mark":{"type":"bar","size":3,"color":"#ff0000"},
 "encoding":{"x":{"field":"b","type":"quantitative","scale":{"domain":[-0.25,467.5],"nice":false,"zero":false},"axis":{"orient":"bottom","labelOverlap":false,"values":[0,16,32,48,64,80,96,112,128,144,160,176,192,208,224,240,256,272,288,304,320,336,352,368],"labelAlign":"left","labelPadding":1,"labelExpr":"['20 Jan 2016','8 Feb 2016','26 Feb 2016','16 Mar 2016','4 Apr 2016','22 Apr 2016','11 May 2016','30 May 2016','17 Jun 2016','6 Jul 2016','25 Jul 2016','12 Aug 2016','31 Aug 2016','19 Sep 2016','7 Oct 2016','26 Oct 2016','14 Nov 2016','2 Dec 2016','21 Dec 2016','11 Jan 2017','30 Jan 2017','17 Feb 2017','8 Mar 2017','27 Mar 2017'][round(datum.value/16)]"}},"y":{"field":"v","type":"quantitative","scale":{"domain":[-0.2078,0.3258],"nice":false,"zero":false},"axis":{"orient":"right","labelOverlap":false,"tickCount":10,"values":[0.297649,0,-0.187837],"labelExpr":"datum.value==0?'0.00':format(datum.value,'.6f')"}},"y2":{"datum":0}}},
{"data":{"values":[{"b":0.95,"v":0.2806,"t":"OsMA(12,26,9) 0.007333"}]},
 "mark":{"type":"text","align":"left","baseline":"middle","color":"#00009c","font":"Liberation Sans","fontSize":9.2},
 "encoding":{"x":{"field":"b","type":"quantitative"},"y":{"field":"v","type":"quantitative"},"text":{"field":"t"}}},
{"data":{"values":[{"x1":421.4,"x2":464.4,"top":0.4258,"bot":-0.159}]},
 "mark":{"type":"rect","clip":false,"fill":{"gradient":"radial","x1":0.5,"y1":0.78,"x2":0.5,"y2":0.78,"r1":0,"r2":0.68,"stops":[{"offset":0,"color":"#ff9c00"},{"offset":0.4,"color":"#f08a05"},{"offset":0.6,"color":"#8a5420"},{"offset":0.8,"color":"#2a1505"},{"offset":1,"color":"#000000"}]}},
 "encoding":{"x":{"field":"x1","type":"quantitative"},"x2":{"field":"x2"},"y":{"field":"top","type":"quantitative"},"y2":{"field":"bot"}}},
{"data":{"values":[{"x1":421.4,"x2":464.4,"top":-0.046,"bot":-0.159}]},
 "mark":{"type":"rect","color":"#000000"},
 "encoding":{"x":{"field":"x1","type":"quantitative"},"x2":{"field":"x2"},"y":{"field":"top","type":"quantitative"},"y2":{"field":"bot"}}},
{"data":{"values":[{"b":434.9,"v":0.036}]},
 "mark":{"type":"point","filled":true,"color":"#000000","opacity":1,"size":4900,"shape":"M-.95 .47 L-.9 .2 L-.7 -.2 L-.55 -.42 L-.3 -.47 L.2 -.42 L.6 -.47 L.72 -.3 L.98 .05 L.85 .15 L.65 .1 L.5 .1 L.45 .47 L.25 .47 L.2 .25 L-.3 .2 L-.45 .47 L-.65 .47 L-.65 .2 L-.8 .47 Z"},
 "encoding":{"x":{"field":"b","type":"quantitative"},"y":{"field":"v","type":"quantitative"}}},
{"data":{"values":[{"b":452.1,"v":0.041}]},
 "mark":{"type":"point","filled":true,"color":"#000000","opacity":1,"size":3844,"shape":"M-1 .3 L-.7 .22 L-.65 0 L-.5 -.4 L-.2 -.6 L.3 -.55 L.55 -.6 L.9 -.3 L.98 .3 L1 .55 L.85 .55 L.7 .2 L.4 .3 L.2 .55 L-.1 .55 L-.1 .35 L-.5 .4 L-.8 .45 Z"},
 "encoding":{"x":{"field":"b","type":"quantitative"},"y":{"field":"v","type":"quantitative"}}},
{"data":{"values":[{"b":428.25,"v":-0.082,"t":"Trading with "}]},
 "mark":{"type":"text","align":"left","baseline":"middle","font":"Liberation Serif","fontSize":15,"color":"#e01010"},
 "encoding":{"x":{"field":"b","type":"quantitative"},"y":{"field":"v","type":"quantitative"},"text":{"field":"t"}}},
{"data":{"values":[{"b":449.1,"v":-0.082,"t":"ReRe"}]},
 "mark":{"type":"text","align":"left","baseline":"middle","font":"Liberation Serif","fontSize":15,"color":"#10a010"},
 "encoding":{"x":{"field":"b","type":"quantitative"},"y":{"field":"v","type":"quantitative"},"text":{"field":"t"}}}
]
}
]
}
